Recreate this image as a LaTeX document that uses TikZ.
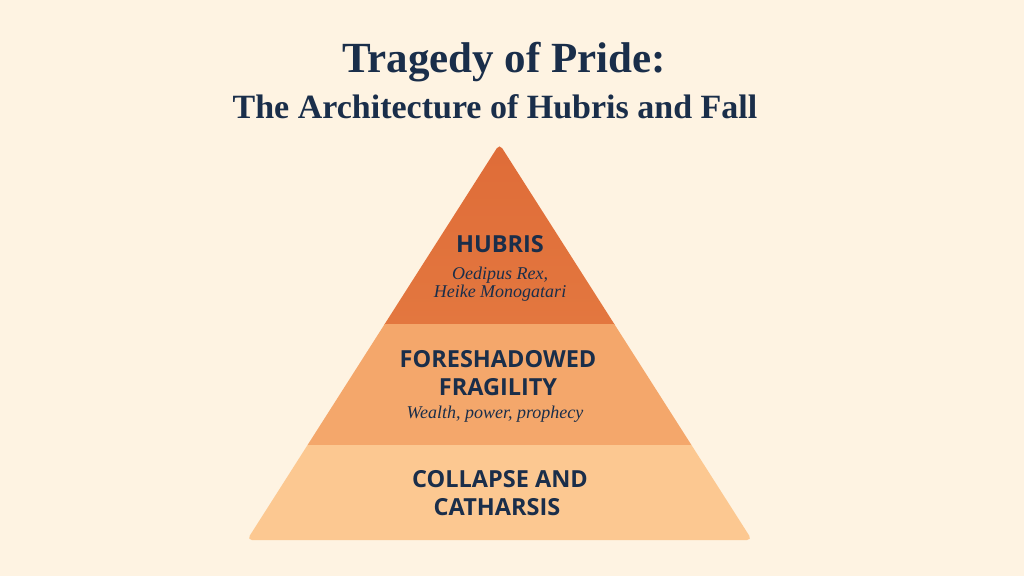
\documentclass[tikz,border=0pt]{standalone}
\usepackage{fontspec}
\setmainfont{Liberation Serif}
\newfontfamily\labelfont{Open Sans}
\definecolor{bg}{HTML}{FEF3E2}
\definecolor{ink}{HTML}{1A2E4A}
\definecolor{tierA}{HTML}{E3773F}
\definecolor{tierAtop}{HTML}{DF6C38}
\definecolor{tierB}{HTML}{F4A76B}
\definecolor{tierC}{HTML}{FCC891}
\tikzset{
  titletext/.style={text=ink, anchor=base, inner sep=0pt, font=\bfseries\fontsize{43}{48}\selectfont},
  subtitletext/.style={text=ink, anchor=base, inner sep=0pt, font=\bfseries\fontsize{34}{40}\selectfont},
  tierlabel/.style={text=ink, anchor=base, inner sep=0pt, font=\labelfont\bfseries\fontsize{23.5}{28}\selectfont},
  tiernote/.style={text=ink, anchor=base, inner sep=0pt, font=\itshape\fontsize{18}{22}\selectfont}
}
\begin{document}
\begin{tikzpicture}[x=1pt,y=-1pt]
\useasboundingbox (0,0) rectangle (1024,576);
\fill[bg] (0,0) rectangle (1024,576);
% pyramid
\begin{scope}
  \clip[rounded corners=5] (499.5,144) -- (752,540) -- (247,540) -- cycle;
  \shade[top color=tierAtop, bottom color=tierA] (240,140) rectangle (760,324);
  \fill[tierB] (240,324) rectangle (760,445);
  \fill[tierC] (240,445) rectangle (760,545);
\end{scope}
% title
\node[titletext] (title) at (504,72) {Tragedy of Pride:};
\node[subtitletext] (subtitle) at (495,118) {The Architecture of Hubris and Fall};
% top tier
\node[tierlabel] (hubris) at (500,252) {HUBRIS};
\node[tiernote] (oedipus) at (500,279) {Oedipus Rex,};
\node[tiernote] (heike) at (500,297) {Heike Monogatari};
% middle tier
\node[tierlabel] (fore) at (498,367) {FORESHADOWED};
\node[tierlabel] (fragility) at (498,395) {FRAGILITY};
\node[tiernote] (wealth) at (495,418) {Wealth, power, prophecy};
% bottom tier
\node[tierlabel] (collapse) at (500,487) {COLLAPSE AND};
\node[tierlabel] (catharsis) at (497,515) {CATHARSIS};
\end{tikzpicture}
\end{document}
